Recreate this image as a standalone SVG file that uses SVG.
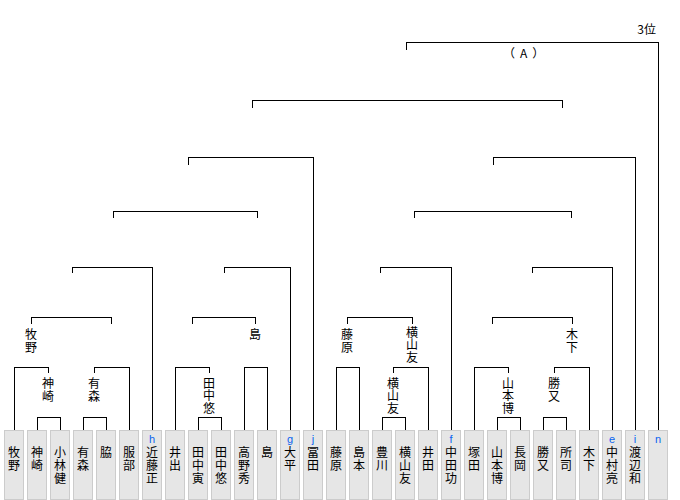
<svg xmlns="http://www.w3.org/2000/svg" width="680" height="500" viewBox="0 0 680 500">
<style>
.bx{fill:#e6e6e6;stroke:#cccccc;stroke-width:1}
.c{fill:none;stroke:#000;stroke-width:1}
.t{font-family:"Noto Sans CJK JP","Noto Sans",sans-serif;font-size:12px;fill:#000;text-anchor:middle}
.v{font-family:"Noto Sans CJK JP","Noto Sans",sans-serif;font-size:12px;fill:#000;writing-mode:vertical-rl;text-anchor:start;letter-spacing:1px}
.v2{letter-spacing:0.5px}
.k{font-family:"Liberation Sans","DejaVu Sans",sans-serif;font-size:11px;fill:#0a64f0;text-anchor:middle}
</style>
<rect width="680" height="500" fill="#fff"/>
<g id="connectors" class="c" transform="translate(0.5,0.5)" shape-rendering="crispEdges">
<path d="M37 430V417H60V430"/>
<path d="M83 430V417H106V430"/>
<path d="M14 430V367H48V372"/>
<path d="M94 372V367H129V430"/>
<path d="M31 323V317H111V323"/>
<path d="M72 272V267H152V430"/>
<path d="M198 430V417H221V430"/>
<path d="M175 430V367H209V372"/>
<path d="M244 430V367H267V430"/>
<path d="M192 323V317H255V323"/>
<path d="M224 272V267H290V430"/>
<path d="M113 217V211H257V217"/>
<path d="M188 164V157H313V430"/>
<path d="M336 430V367H359V430"/>
<path d="M382 430V417H405V430"/>
<path d="M393 372V367H428V430"/>
<path d="M347 323V317H412V323"/>
<path d="M380 272V267H451V430"/>
<path d="M497 430V417H520V430"/>
<path d="M543 430V417H566V430"/>
<path d="M474 430V367H508V372"/>
<path d="M554 372V367H589V430"/>
<path d="M492 323V317H572V323"/>
<path d="M532 272V267H612V430"/>
<path d="M414 217V211H571V217"/>
<path d="M493 164V157H635V430"/>
<path d="M252 107V100H562V107"/>
<path d="M406 49V42H658V430"/>
</g>
<g id="labels">
<text class="v" x="31" y="328">牧野</text>
<text class="v" x="48" y="377">神崎</text>
<text class="v" x="94" y="377">有森</text>
<text class="v v2" x="209" y="377">田中悠</text>
<text class="v" x="255" y="328">島</text>
<text class="v" x="347" y="328">藤原</text>
<text class="v v2" x="412" y="326">横山友</text>
<text class="v v2" x="393" y="377">横山友</text>
<text class="v v2" x="508" y="377">山本博</text>
<text class="v" x="554" y="377">勝又</text>
<text class="v" x="572" y="328">木下</text>
<text class="t" x="656" y="34" style="text-anchor:end">3位</text>
<text class="t" x="503" y="58" style="text-anchor:start;letter-spacing:5px">（A）</text>
</g>
<g id="n0"><rect class="bx" x="4.5" y="430.5" width="19" height="69"/><text class="v" x="14" y="446">牧野</text></g>
<g id="n1"><rect class="bx" x="27.5" y="430.5" width="19" height="69"/><text class="v" x="37" y="446">神崎</text></g>
<g id="n2"><rect class="bx" x="50.5" y="430.5" width="19" height="69"/><text class="v" x="60" y="446">小林健</text></g>
<g id="n3"><rect class="bx" x="73.5" y="430.5" width="19" height="69"/><text class="v" x="83" y="446">有森</text></g>
<g id="n4"><rect class="bx" x="96.5" y="430.5" width="19" height="69"/><text class="v" x="106" y="446">脇</text></g>
<g id="n5"><rect class="bx" x="119.5" y="430.5" width="19" height="69"/><text class="v" x="129" y="446">服部</text></g>
<g id="n6"><rect class="bx" x="142.5" y="430.5" width="19" height="69"/><text class="k" x="152" y="443">h</text><text class="v" x="152" y="446">近藤正</text></g>
<g id="n7"><rect class="bx" x="165.5" y="430.5" width="19" height="69"/><text class="v" x="175" y="446">井出</text></g>
<g id="n8"><rect class="bx" x="188.5" y="430.5" width="19" height="69"/><text class="v" x="198" y="446">田中寅</text></g>
<g id="n9"><rect class="bx" x="211.5" y="430.5" width="19" height="69"/><text class="v" x="221" y="446">田中悠</text></g>
<g id="n10"><rect class="bx" x="234.5" y="430.5" width="19" height="69"/><text class="v" x="244" y="446">高野秀</text></g>
<g id="n11"><rect class="bx" x="257.5" y="430.5" width="19" height="69"/><text class="v" x="267" y="446">島</text></g>
<g id="n12"><rect class="bx" x="280.5" y="430.5" width="19" height="69"/><text class="k" x="290" y="443">g</text><text class="v" x="290" y="446">大平</text></g>
<g id="n13"><rect class="bx" x="303.5" y="430.5" width="19" height="69"/><text class="k" x="313" y="443">j</text><text class="v" x="313" y="446">冨田</text></g>
<g id="n14"><rect class="bx" x="326.5" y="430.5" width="19" height="69"/><text class="v" x="336" y="446">藤原</text></g>
<g id="n15"><rect class="bx" x="349.5" y="430.5" width="19" height="69"/><text class="v" x="359" y="446">島本</text></g>
<g id="n16"><rect class="bx" x="372.5" y="430.5" width="19" height="69"/><text class="v" x="382" y="446">豊川</text></g>
<g id="n17"><rect class="bx" x="395.5" y="430.5" width="19" height="69"/><text class="v" x="405" y="446">横山友</text></g>
<g id="n18"><rect class="bx" x="418.5" y="430.5" width="19" height="69"/><text class="v" x="428" y="446">井田</text></g>
<g id="n19"><rect class="bx" x="441.5" y="430.5" width="19" height="69"/><text class="k" x="451" y="443">f</text><text class="v" x="451" y="446">中田功</text></g>
<g id="n20"><rect class="bx" x="464.5" y="430.5" width="19" height="69"/><text class="v" x="474" y="446">塚田</text></g>
<g id="n21"><rect class="bx" x="487.5" y="430.5" width="19" height="69"/><text class="v" x="497" y="446">山本博</text></g>
<g id="n22"><rect class="bx" x="510.5" y="430.5" width="19" height="69"/><text class="v" x="520" y="446">長岡</text></g>
<g id="n23"><rect class="bx" x="533.5" y="430.5" width="19" height="69"/><text class="v" x="543" y="446">勝又</text></g>
<g id="n24"><rect class="bx" x="556.5" y="430.5" width="19" height="69"/><text class="v" x="566" y="446">所司</text></g>
<g id="n25"><rect class="bx" x="579.5" y="430.5" width="19" height="69"/><text class="v" x="589" y="446">木下</text></g>
<g id="n26"><rect class="bx" x="602.5" y="430.5" width="19" height="69"/><text class="k" x="612" y="443">e</text><text class="v" x="612" y="446">中村亮</text></g>
<g id="n27"><rect class="bx" x="625.5" y="430.5" width="19" height="69"/><text class="k" x="635" y="443">i</text><text class="v" x="635" y="446">渡辺和</text></g>
<g id="n28"><rect class="bx" x="648.5" y="430.5" width="19" height="69"/><text class="k" x="658" y="443">n</text></g>
</svg>
